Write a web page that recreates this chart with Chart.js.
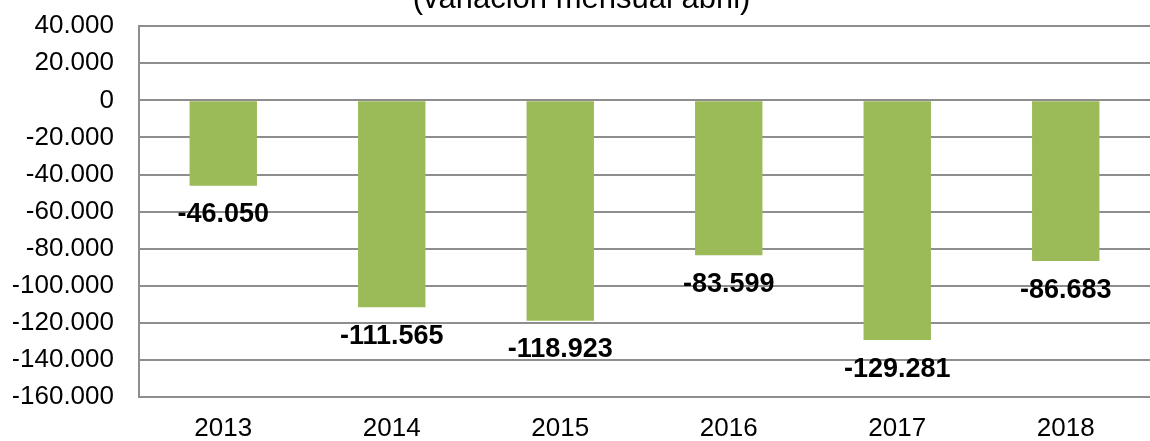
<!DOCTYPE html>
<html>
<head>
<meta charset="utf-8">
<script src="https://cdn.jsdelivr.net/npm/chart.js@4"></script>
<style>
  html, body { margin: 0; padding: 0; background: #fff; overflow: hidden; }
  #wrap { position: absolute; left: 0; top: -19px; width: 1150px; height: 460px; }
</style>
</head>
<body>
<div id="wrap"><canvas id="chart"></canvas></div>
<script>
  // values
  var years = ["2013", "2014", "2015", "2016", "2017", "2018"];
  var variacion = [-46050, -111565, -118923, -83599, -129281, -86683];
  var titleText = "(variación mensual abril)";

  function fmt(v) {
    var s = Math.abs(v).toString().replace(/\B(?=(\d{3})+(?!\d))/g, ".");
    return (v < 0 ? "-" : "") + s;
  }

  var FONT = "'Liberation Sans', Arial, sans-serif";
  Chart.defaults.color = "#000";
  Chart.defaults.font.family = FONT;

  // labels under the end of each bar
  var barLabels = {
    id: "barLabels",
    afterDatasetsDraw: function (chart) {
      var ctx = chart.ctx;
      var meta = chart.getDatasetMeta(0);
      ctx.save();
      ctx.font = "bold 27px " + FONT;
      ctx.fillStyle = "#000";
      ctx.textAlign = "center";
      ctx.textBaseline = "middle";
      meta.data.forEach(function (bar, i) {
        ctx.fillText(fmt(variacion[i]), bar.x, bar.y + 29);
      });
      ctx.restore();
    },
  };

  var ctx = document.getElementById("chart").getContext("2d");
  new Chart(ctx, {
    type: "bar",
    data: {
      labels: years,
      datasets: [
        {
          data: variacion,
          backgroundColor: "#9bbb59",
          categoryPercentage: 1,
          barPercentage: 0.4,
        },
      ],
    },
    options: {
      responsive: true,
      maintainAspectRatio: false,
      animation: false,
      layout: { padding: { left: 13, right: 0, top: 0, bottom: 0 } },
      plugins: {
        legend: { display: false },
        tooltip: { enabled: false },
        title: {
          display: true,
          text: titleText,
          font: { size: 31, weight: "normal" },
          padding: { top: 0, bottom: 8 },
        },
      },
      scales: {
        x: {
          grid: { display: false, drawTicks: false },
          border: { display: true, color: "#8e8e8e", width: 2 },
          ticks: { font: { size: 26 }, padding: 16 },
          afterFit: function (scale) { scale.height = 44; },
        },
        y: {
          min: -160000,
          max: 40000,
          grid: { color: "#8e8e8e", lineWidth: 2, drawTicks: false },
          border: { display: true, color: "#8e8e8e", width: 2 },
          ticks: {
            stepSize: 20000,
            font: { size: 26 },
            padding: 25,
            callback: function (v) { return fmt(v); },
          },
          afterFit: function (scale) { scale.width = 126; },
        },
      },
    },
    plugins: [barLabels],
  });
</script>
</body>
</html>
